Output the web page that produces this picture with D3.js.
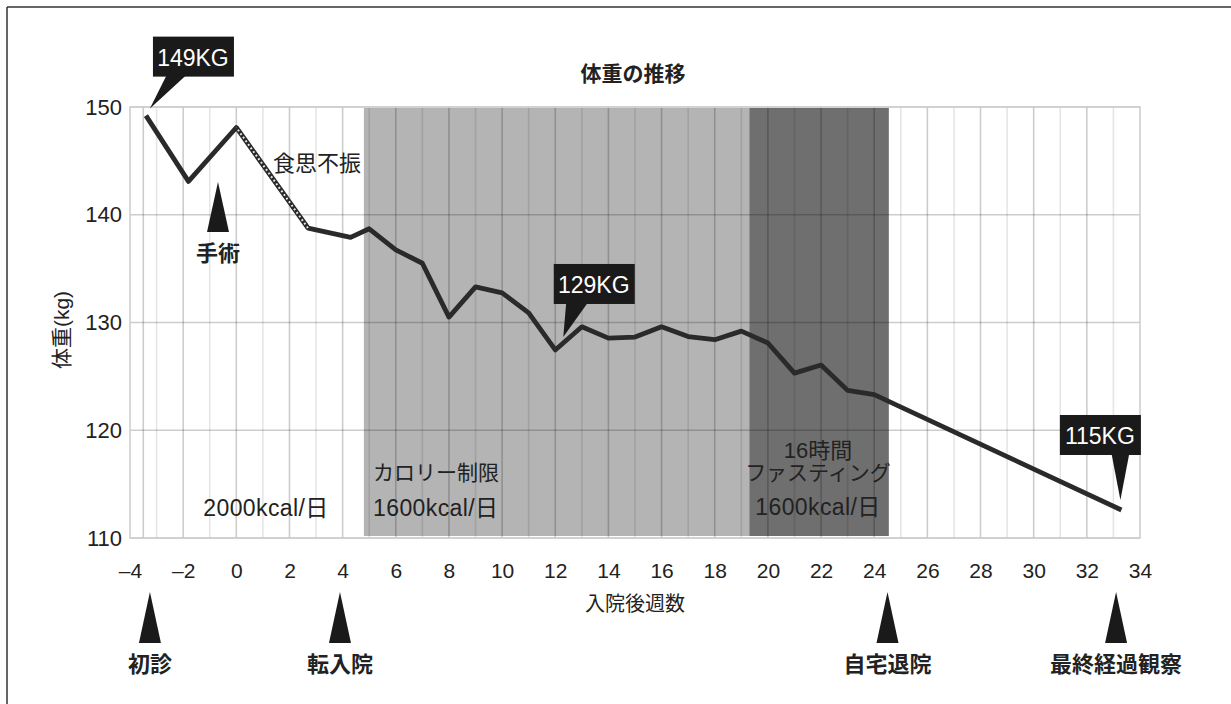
<!DOCTYPE html>
<html>
<head>
<meta charset="utf-8">
<script src="https://cdn.jsdelivr.net/npm/d3@7"></script>
<style>
  body { margin: 0; background: #fff; }
  svg { display: block; }
  text { font-family: "Liberation Sans", Arial, "Noto Sans CJK JP", sans-serif; fill: #222; }
  .jp { font-family: "Liberation Sans", "Noto Sans CJK JP", sans-serif; }
</style>
</head>
<body>
<svg width="1231" height="704"></svg>
<script>
// weekly weight (kg)
var weeks   = [-3.4, -1.8, 0, 2.7, 4.3, 5, 6, 7, 8, 9, 10, 11, 12, 13, 14, 15, 16, 17, 18, 19, 20, 21, 22, 23, 24, 33.3];
var weights = [149.2, 143.1, 148.1, 138.75, 137.9, 138.7, 136.75, 135.5, 130.5, 133.3, 132.75, 130.9, 127.45, 129.6,
               128.55, 128.65, 129.6, 128.7, 128.4, 129.2, 128.1, 125.3, 126.05, 123.7, 123.3, 112.6];

var xTicks = d3.range(-4, 35, 2);
var yTicks = [110, 120, 130, 140, 150];

// shaded phases (weeks)
var bandStart = [4.8, 19.3];
var bandEnd   = [19.3, 24.55];

// events marked under the axis
var eventNames = ["初診", "転入院", "自宅退院", "最終経過観察"];
var eventWeeks = [-3.25, 3.9, 24.5, 33.1];

// callout labels: text and index of the point they point at
var calloutText  = ["149KG", "129KG", "115KG"];
var calloutPoint = [0, 12, 25];

var svg = d3.select("svg");

var x = d3.scaleLinear().domain([-4, 34]).range([130, 1140]);
var y = d3.scaleLinear().domain([110, 150]).range([538, 107]);

var data = weeks.map(function (w, i) { return { w: w, v: weights[i] }; });

// frame (top + left edges only are visible)
svg.append("line").attr("x1", 7).attr("y1", 7).attr("x2", 1231).attr("y2", 7)
  .attr("stroke", "#333").attr("stroke-width", 1.5);
svg.append("line").attr("x1", 7).attr("y1", 7).attr("x2", 7).attr("y2", 704)
  .attr("stroke", "#333").attr("stroke-width", 1.5);

var bandFill = ["#b4b4b4", "#6f6f6f"];
svg.append("g").selectAll("rect")
  .data(bandStart)
  .enter().append("rect")
  .attr("x", function (d) { return x(d); })
  .attr("width", function (d, i) { return x(bandEnd[i]) - x(d); })
  .attr("y", y(150) + 1)
  .attr("height", y(110) - y(150) - 3)
  .attr("fill", function (d, i) { return bandFill[i]; });

// vertical grid, one line a week (plus first visit)
var vLines = [-3.5].concat(d3.range(-3, 34));
svg.append("g").selectAll("line")
  .data(vLines)
  .enter().append("line")
  .attr("x1", function (d) { return x(d); })
  .attr("x2", function (d) { return x(d); })
  .attr("y1", y(150)).attr("y2", y(110))
  .attr("stroke", function (d) { return (d % 2 === 0 || d === -3.5) ? "rgba(0,0,0,0.2)" : "rgba(0,0,0,0.1)"; })
  .attr("stroke-width", 1.6);

svg.append("g").selectAll("line")
  .data(yTicks)
  .enter().append("line")
  .attr("x1", x(-4)).attr("x2", x(34))
  .attr("y1", function (d) { return y(d); })
  .attr("y2", function (d) { return y(d); })
  .attr("stroke", "rgba(0,0,0,0.2)")
  .attr("stroke-width", 1.6);

svg.append("rect")
  .attr("x", x(-4)).attr("y", y(150))
  .attr("width", x(34) - x(-4)).attr("height", y(110) - y(150))
  .attr("fill", "none").attr("stroke", "#cfcfcf").attr("stroke-width", 1.6);

// axes
var fmt = function (d) { return d < 0 ? "–" + Math.abs(d) : d; };
var gx = svg.append("g")
  .attr("transform", "translate(0," + y(110) + ")")
  .call(d3.axisBottom(x).tickValues(xTicks).tickFormat(fmt).tickSize(0).tickPadding(25));
gx.select(".domain").remove();
gx.selectAll("text").style("font-size", "21px").attr("fill", "#222")
  .attr("font-family", "Liberation Sans, Arial, sans-serif");

var gy = svg.append("g")
  .attr("transform", "translate(" + x(-4) + ",0)")
  .call(d3.axisLeft(y).tickValues(yTicks).tickSize(0).tickPadding(8));
gy.select(".domain").remove();
gy.selectAll("text").style("font-size", "22px").attr("fill", "#222")
  .attr("font-family", "Liberation Sans, Arial, sans-serif");

svg.append("text").attr("class", "jp")
  .attr("x", 635).attr("y", 604).attr("text-anchor", "middle")
  .attr("dominant-baseline", "central").style("font-size", "20px")
  .text("入院後週数");

svg.append("text").attr("class", "jp")
  .attr("transform", "translate(61,330) rotate(-90)")
  .attr("text-anchor", "middle").attr("dominant-baseline", "central")
  .style("font-size", "21px")
  .text("体重(kg)");

svg.append("text").attr("class", "jp")
  .attr("x", 633).attr("y", 73).attr("text-anchor", "middle")
  .attr("dominant-baseline", "central").style("font-size", "21px").style("font-weight", "bold")
  .text("体重の推移");

// phase labels
function label(txt, px, py, anchor, size, weight, spacing) {
  svg.append("text").attr("class", "jp")
    .attr("x", px).attr("y", py)
    .attr("text-anchor", anchor).attr("dominant-baseline", "central")
    .style("font-size", size + "px").style("font-weight", weight || "normal")
    .style("letter-spacing", (spacing || 0) + "px")
    .text(txt);
}
label("2000kcal/日", 266, 508, "middle", 23, "normal", 0.4);
label("カロリー制限", 373, 472, "start", 21);
label("1600kcal/日", 373, 508, "start", 23, "normal", 0.4);
label("16時間", 818, 450, "middle", 22);
label("ファスティング", 818, 472, "middle", 21);
label("1600kcal/日", 818, 507, "middle", 23, "normal", 0.4);
label("食思不振", 273, 163, "start", 22);

// weight line
var line = d3.line().x(function (d) { return x(d.w); }).y(function (d) { return y(d.v); });
svg.append("defs").append("filter").attr("id", "soft")
  .append("feGaussianBlur").attr("stdDeviation", 0.5);

svg.append("path")
  .datum(data)
  .attr("d", line)
  .attr("fill", "none")
  .attr("stroke", "#2a2a2a")
  .attr("stroke-width", 4.8)
  .attr("stroke-linejoin", "round")
  .attr("filter", "url(#soft)");

// dotted stretch (appetite loss)
svg.append("path")
  .datum(data.slice(2, 4))
  .attr("d", line)
  .attr("fill", "none")
  .attr("stroke", "#e8e8e8")
  .attr("stroke-width", 2)
  .attr("stroke-dasharray", "1.8 2.6")
  .attr("stroke-dashoffset", 6);

// surgery marker
var sx = 218;
svg.append("path")
  .attr("d", "M" + sx + ",182L" + (sx + 11) + ",232L" + (sx - 11) + ",232Z")
  .attr("fill", "#1a1a1a");
label("手術", sx, 253, "middle", 22, "bold");

// events below axis
var ev = svg.append("g").selectAll("g")
  .data(eventNames)
  .enter().append("g")
  .attr("transform", function (d, i) { return "translate(" + x(eventWeeks[i]) + ",0)"; });
ev.append("path").attr("d", "M0,592L11,643L-11,643Z").attr("fill", "#1a1a1a");
ev.append("text").attr("class", "jp")
  .attr("y", 664).attr("text-anchor", "middle").attr("dominant-baseline", "central")
  .style("font-size", "22px").style("font-weight", "bold")
  .text(function (d) { return d; });

// callouts: box centre offset, pointer base offsets, tip offset (px, from the point)
var calloutLayout = [
  { cx: 47, cy: -59, b0: -26, b1: -6, tx: 4, ty: -7 },
  { cx: 38.5, cy: -66, b0: -27.5, b1: -5.5, tx: 8, ty: -13 },
  { cx: -21.5, cy: -75, b0: 11.5, b1: 29.5, tx: -1, ty: -10 }
];
var co = svg.append("g").selectAll("g")
  .data(calloutText)
  .enter().append("g")
  .attr("transform", function (d, i) {
    var p = data[calloutPoint[i]];
    return "translate(" + x(p.w) + "," + y(p.v) + ")";
  });
co.append("path")
  .attr("d", function (d, i) {
    var l = calloutLayout[i];
    return "M" + (l.cx + l.b0) + "," + (l.cy + 18) + "L" + (l.cx + l.b1) + "," + (l.cy + 18) +
      "L" + l.tx + "," + l.ty + "Z";
  })
  .attr("fill", "#1a1a1a");
co.append("rect")
  .attr("x", function (d, i) { return calloutLayout[i].cx - 40; })
  .attr("y", function (d, i) { return calloutLayout[i].cy - 20; })
  .attr("width", 81).attr("height", 40)
  .attr("fill", "#1a1a1a");
co.append("text")
  .attr("x", function (d, i) { return calloutLayout[i].cx; })
  .attr("y", function (d, i) { return calloutLayout[i].cy + 1; })
  .attr("text-anchor", "middle").attr("dominant-baseline", "central")
  .style("font-size", "23px").style("fill", "#fff")
  .text(function (d) { return d; });
</script>
</body>
</html>
